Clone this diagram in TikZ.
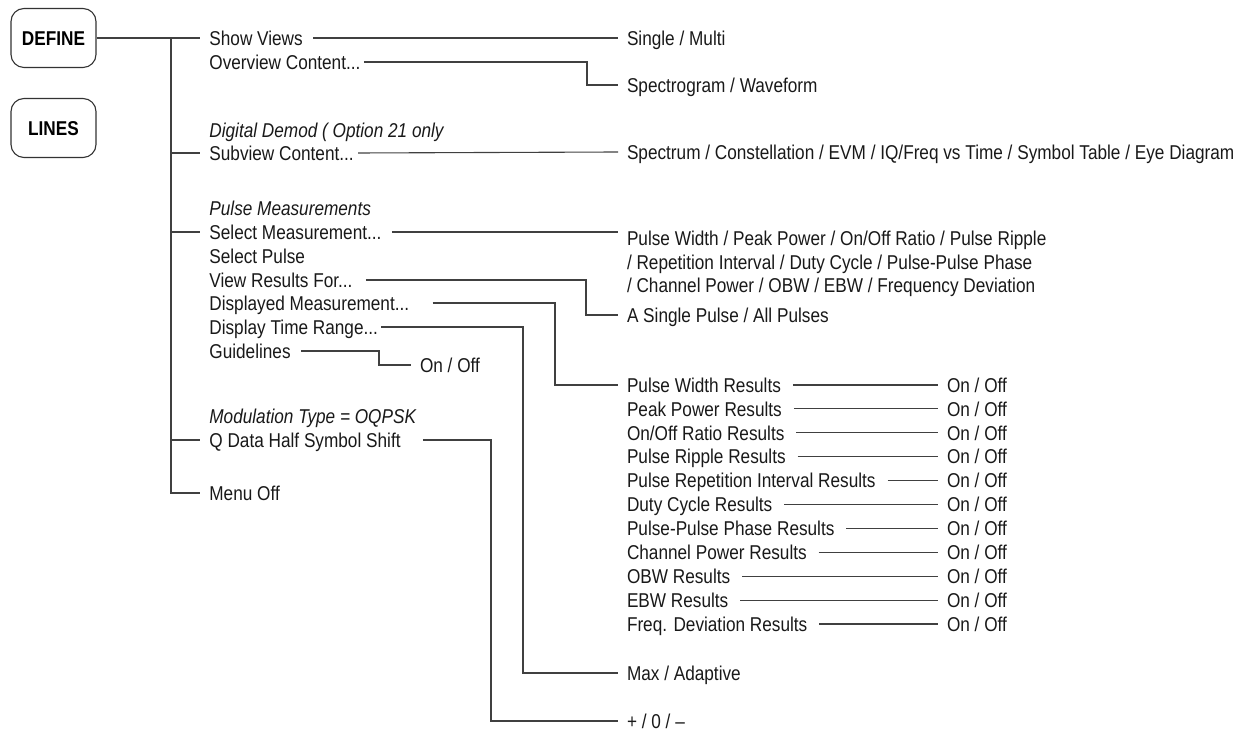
\documentclass[tikz,border=0pt]{standalone}
\usepackage{fontspec}
\setmainfont{Liberation Sans}[FakeStretch=0.86]

\tikzset{
  item/.style={anchor=west, inner sep=0pt, text height=7.2pt, text depth=0pt,
    font=\fontsize{10}{12}\selectfont, text=black!90},
  note/.style={item, font=\fontsize{10}{12}\selectfont\itshape},
  val/.style={item, outer xsep=4.5pt},
  multi/.style={anchor=north west, inner sep=0pt, outer xsep=4.5pt, align=left,
    font=\fontsize{10}{11.75}\selectfont, text=black!90},
  key/.style={draw=black!80, line width=0.55pt, rounded corners=6.5pt,
    minimum width=42.5pt, minimum height=29.5pt, inner sep=0pt,
    text height=7.2pt, text depth=0pt, font=\fontsize{10}{12}\selectfont\bfseries},
  wire/.style={draw=black!75, line width=0.55pt}
}

\begin{document}
\begin{tikzpicture}[x=0.5pt, y=-0.5pt]
\useasboundingbox (0,0) rectangle (1251,731);
% front panel keys
\node[key] (define) at (53.5,38) {DEFINE};
\node[key] (lines) at (53.5,128) {LINES};
% menu column
\node[item] (sv) at (209,38) {Show Views};
\node[item] (ov) at (209,62) {Overview Content...};
\node[note] (dd) at (209,130) {Digital Demod ( Option 21 only};
\node[item] (sc) at (209,153) {Subview Content...};
\node[note] (pm) at (209,208) {Pulse Measurements};
\node[item] (sm) at (209,232) {Select Measurement...};
\node[item] (sp) at (209,256) {Select Pulse};
\node[item] (vr) at (209,280) {View Results For...};
\node[item] (dm) at (209,303) {Displayed Measurement...};
\node[item] (dt) at (209,327) {Display Time Range...};
\node[item] (gl) at (209,351) {Guidelines};
\node[note] (mt) at (209,416) {Modulation Type = OQPSK};
\node[item] (qd) at (209,440) {Q Data Half Symbol Shift};
\node[item] (mo) at (209,493) {Menu Off};
% choices
\node[val] (s1) at (618,38) {Single / Multi};
\node[val] (s2) at (618,85) {Spectrogram / Waveform};
\node[val] (s3) at (618,152) {Spectrum / Constellation / EVM / IQ/Freq vs Time / Symbol Table / Eye Diagram};
\node[multi] (s4) at (618,231) {Pulse Width / Peak Power / On/Off Ratio / Pulse Ripple\\
  / Repetition Interval / Duty Cycle / Pulse-Pulse Phase\\
  / Channel Power / OBW / EBW / Frequency Deviation};
\node[val] (s5) at (618,315) {A Single Pulse / All Pulses};
\node[val] (g1) at (411,365) {On / Off};
\node[val] (s6) at (618,673) {Max / Adaptive};
\node[val] (s7) at (618,721) {+ / 0 / –};
% trunk
\coordinate (trk) at (171,38);
\draw[wire] (define.east) -- ([xshift=-4.5pt]sv.west);
\draw[wire] (trk) |- ([xshift=-4.5pt]mo.west);
\foreach \n in {sc,sm,qd}
  \draw[wire] (trk |- \n.west) -- ([xshift=-4.5pt]\n.west);
% bends
\coordinate (kOv) at (587,0);
\coordinate (kVr) at (586,0);
\coordinate (kDm) at (555,0);
\coordinate (kDt) at (523,0);
\coordinate (kGl) at (379,0);
\coordinate (kQd) at (491,0);
\draw[wire] ([xshift=5pt]sv.east) -- (s1.west);
\draw[wire] ([xshift=1.5pt]ov.east) -- (ov.east -| kOv) |- (s2.west);
\draw[wire] ([xshift=2pt]sc.east) -- (s3.west);
\draw[wire] ([xshift=5pt]sm.east) -- (sm.east -| s4.west);
\draw[wire] ([xshift=6.5pt]vr.east) -- (vr.east -| kVr) |- (s5.west);
\draw[wire] ([xshift=1.5pt]dt.east) -- (dt.east -| kDt) |- (s6.west);
\draw[wire] ([xshift=5pt]gl.east) -- (gl.east -| kGl) |- (g1.west);
\draw[wire] ([xshift=11pt]qd.east) -- (qd.east -| kQd) |- (s7.west);
% results list
\foreach \t [count=\i] in {Pulse Width Results, Peak Power Results, On/Off Ratio Results,
    Pulse Ripple Results, Pulse Repetition Interval Results, Duty Cycle Results,
    Pulse-Pulse Phase Results, Channel Power Results, OBW Results, EBW Results,
    Freq. Deviation Results} {
  \node[val] (r\i) at (618,{385+23.9*(\i-1)}) {\t};
  \node[val] (o\i) at (938,{385+23.9*(\i-1)}) {On / Off};
  \draw[wire] ([xshift=1.5pt]r\i.east) -- (o\i.west);
}
\draw[wire] ([xshift=11.5pt]dm.east) -- (dm.east -| kDm) |- (r1.west);
\end{tikzpicture}
\end{document}
